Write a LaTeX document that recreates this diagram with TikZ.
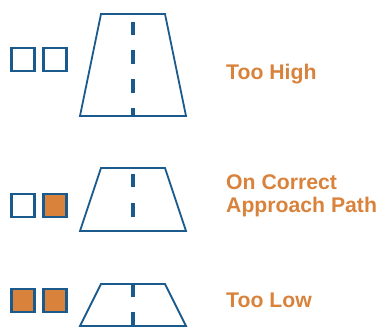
\documentclass[tikz,border=0pt]{standalone}
\usepackage{fontspec}
\setmainfont{Liberation Sans}
\usepackage{tikz}

\definecolor{papiblue}{HTML}{1B5A8C}
\definecolor{papiorange}{HTML}{D9823B}

\begin{document}
\begin{tikzpicture}[x=1pt,y=-1pt,
  lamp/.style={rectangle,draw=papiblue,line width=2.2pt,minimum size=23pt,inner sep=0pt},
  lampon/.style={lamp,fill=papiorange},
  road/.style={draw=papiblue,line width=1.8pt,line join=miter},
  centre/.style={draw=papiblue,line width=4pt},
  caption/.style={anchor=base west,text=papiorange,font=\fontsize{21.2}{22}\selectfont\bfseries,align=left,inner sep=0pt}]

\useasboundingbox (0,0) rectangle (379,328);

% too high
\node[lamp] (h1) at (23,59.5) {};
\node[lamp] (h2) at (55,59.5) {};
\draw[road] (101,14) -- (165,14) -- (186,116) -- (80,116) -- cycle;
\draw[centre] (133,22) -- (133,35);
\draw[centre] (133,50) -- (133,64);
\draw[centre] (133,79) -- (133,93);
\draw[centre] (133,108) -- (133,116);
\node[caption] (high) at (226,80) {Too High};

% on path
\node[lamp] (c1) at (23,205.5) {};
\node[lampon] (c2) at (55,205.5) {};
\draw[road] (101,168) -- (165,168) -- (186,231) -- (80,231) -- cycle;
\draw[centre] (133,174) -- (133,187);
\draw[centre] (133,203) -- (133,217);
\node[caption] (ok) at (226,212) {On Correct\\Approach Path};

% too low
\node[lampon] (w1) at (23,300.5) {};
\node[lampon] (w2) at (55,300.5) {};
\draw[road] (101,284) -- (165,284) -- (186,326) -- (80,326) -- cycle;
\draw[centre] (133,284) -- (133,297);
\draw[centre] (133,312) -- (133,326);
\node[caption] (low) at (226,307.5) {Too Low};

\end{tikzpicture}
\end{document}
